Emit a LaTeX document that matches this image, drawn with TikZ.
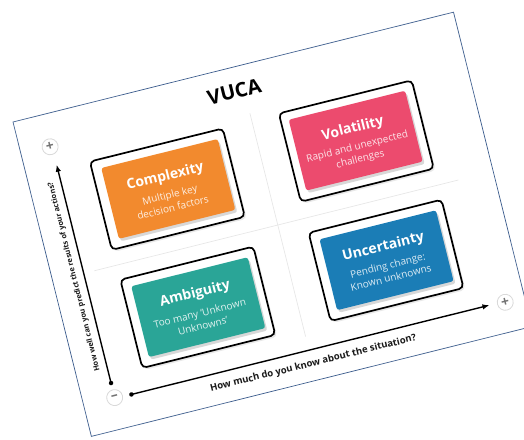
\documentclass[tikz,border=0pt]{standalone}
\usepackage{fontspec}
\setmainfont{Open Sans}
\usetikzlibrary{shadows,arrows.meta}
\definecolor{cOrange}{HTML}{F28A2E}
\definecolor{cPink}{HTML}{EC4B6E}
\definecolor{cTeal}{HTML}{2AA597}
\definecolor{cBlue}{HTML}{1B7DB6}
\definecolor{cEdge}{HTML}{3E5E8E}
\tikzset{
 slidebox/.style={draw=cEdge, line width=0.7pt, fill=white},
 framebox/.style={draw=black, line width=1.7pt, rounded corners=4.5pt, fill=white, minimum width=137pt, minimum height=91pt, drop shadow={opacity=0.18, shadow xshift=2pt, shadow yshift=-2pt}},
 cbox/.style={rounded corners=2.5pt, minimum width=120pt, minimum height=73pt, drop shadow={opacity=0.3, shadow xshift=2pt, shadow yshift=-2.5pt}},
 ttl/.style={text=white, font=\bfseries\fontsize{14}{16}\selectfont, inner sep=0pt},
 subt/.style={text=white, text opacity=0.85, font=\fontsize{10}{13}\selectfont, align=center, inner sep=0pt},
 axisline/.style={line width=1.4pt, -{Latex[length=7pt,width=5.5pt]}},
 axdot/.style={circle, fill=black, inner sep=0pt, minimum size=4.5pt},
 pm/.style={circle, draw=black!15, line width=0.8pt, fill=white, text=black!55, inner sep=0pt, minimum size=16pt, font=\bfseries\fontsize{14}{14}\selectfont},
 divider/.style={draw=black!10, line width=0.6pt},
 axlabel/.style={font=\bfseries\fontsize{9.5}{11}\selectfont, text=black!90, inner sep=0pt},
}
\begin{document}
\begin{tikzpicture}[x=1pt,y=-1pt]
\fill[white] (0,0) rectangle (524,439);
\useasboundingbox (0,0) rectangle (524,439);
\begin{scope}[shift={(13,122)}, rotate=14, transform shape]
 \draw[slidebox] (0,0) rectangle (454,324);
 \node[font=\bfseries\fontsize{20}{22}\selectfont, inner sep=0pt] (title) at (222,24) {VUCA};
 % dividers
 \coordinate (dvt) at (232,49); \coordinate (dvb) at (232,279);
 \coordinate (dhl) at (43,164); \coordinate (dhr) at (418,164);
 \draw[divider] (dvt) -- (dvb);
 \draw[divider] (dhl) -- (dhr);
 % frames
 \node[framebox] (fC) at (133.5,102.5) {};
 \node[framebox] (fV) at (328.5,101.5) {};
 \node[framebox] (fA) at (134.5,224.5) {};
 \node[framebox] (fU) at (328.5,224.5) {};
 % coloured boxes
 \node[cbox, fill=cOrange] (C) at (134.5,102.5) {};
 \node[cbox, fill=cPink] (V) at (328,101) {};
 \node[cbox, fill=cTeal] (A) at (135,224.5) {};
 \node[cbox, fill=cBlue] (U) at (329,224.5) {};
 \node[ttl] (Ct) at (134.5,90) {Complexity};
 \node[subt] (Cs) at (134.5,115) {Multiple key\\decision factors};
 \node[ttl] (Vt) at (328,89) {Volatility};
 \node[subt] (Vs) at (328,114) {Rapid and unexpected\\challenges};
 \node[ttl] (At) at (135,211) {Ambiguity};
 \node[subt] (As) at (135,237) {Too many ‘Unknown\\Unknowns’};
 \node[ttl] (Ut) at (329,211) {Uncertainty};
 \node[subt] (Us) at (329,236) {Pending change:\\Known unknowns};
 % axes
 \node[axdot] (vdot) at (32,277) {};
 \coordinate (vtip) at (32,52);
 \node[axdot] (hdot) at (49,293) {};
 \coordinate (htip) at (418,293);
 \draw[axisline] (vdot.center) -- (vtip);
 \draw[axisline] (hdot.center) -- (htip);
 \node[pm] (ptop) at (30,33) {+};
 \node[pm] (pright) at (434,294) {+};
 \node[pm] (pmin) at (32,292) {–};
 \node[axlabel, font=\bfseries\fontsize{7.4}{9}\selectfont, rotate=90] (vlab) at (22,165) {How well can you predict the results of your actions?};
 \node[axlabel] (hlab) at (233,307) {How much do you know about the situation?};
\end{scope}
\end{tikzpicture}
\end{document}
